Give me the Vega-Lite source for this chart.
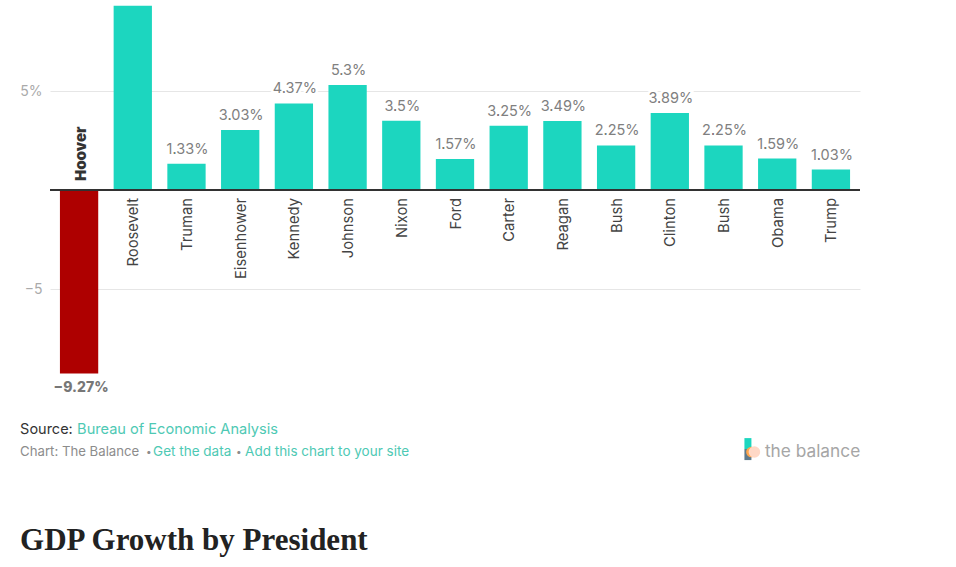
{
"$schema":"https://vega.github.io/schema/vega-lite/v6.json",
"width":810,"height":567,
"autosize":{"type":"none"},
"padding":{"left":50,"right":96,"top":0,"bottom":0},
"background":"white",
"config":{"view":{"stroke":null},"text":{"font":"Inter"}},
"data":{"values":[
{"term":"Hoover","president":"Hoover","growth":-9.27,"label":"−9.27%"},
{"term":"Roosevelt","president":"Roosevelt","growth":9.3,"label":""},
{"term":"Truman","president":"Truman","growth":1.33,"label":"1.33%"},
{"term":"Eisenhower","president":"Eisenhower","growth":3.03,"label":"3.03%"},
{"term":"Kennedy","president":"Kennedy","growth":4.37,"label":"4.37%"},
{"term":"Johnson","president":"Johnson","growth":5.3,"label":"5.3%"},
{"term":"Nixon","president":"Nixon","growth":3.5,"label":"3.5%"},
{"term":"Ford","president":"Ford","growth":1.57,"label":"1.57%"},
{"term":"Carter","president":"Carter","growth":3.25,"label":"3.25%"},
{"term":"Reagan","president":"Reagan","growth":3.49,"label":"3.49%"},
{"term":"Bush 41","president":"Bush","growth":2.25,"label":"2.25%"},
{"term":"Clinton","president":"Clinton","growth":3.89,"label":"3.89%"},
{"term":"Bush 43","president":"Bush","growth":2.25,"label":"2.25%"},
{"term":"Obama","president":"Obama","growth":1.59,"label":"1.59%"},
{"term":"Trump","president":"Trump","growth":1.03,"label":"1.03%"}
]},
"encoding":{
"x":{"field":"term","type":"nominal","scale":{"domain":["Hoover","Roosevelt","Truman","Eisenhower","Kennedy","Johnson","Nixon","Ford","Carter","Reagan","Bush 41","Clinton","Bush 43","Obama","Trump"],"paddingInner":0.287,"paddingOuter":0.185},"axis":null},
"y":{"field":"growth","type":"quantitative","scale":{"domain":[-19.04,9.596],"nice":false,"zero":false},
 "axis":{"values":[-5,5],"title":null,"domain":false,"ticks":false,"labelExpr":"datum.value>0?'5%':'−5'","labelColor":"#aaaaaa","labelFont":"Inter","labelFontSize":14,"labelPadding":8,"gridColor":"#e6e6e6","grid":true,"zindex":0}}
},
"layer":[
{"transform":[{"filter":"datum.growth>0"}],"mark":{"type":"text","baseline":"bottom","dy":-7,"dx":1,"stroke":"white","strokeWidth":5,"fontSize":14.5},"encoding":{"text":{"field":"label"}}},
{"mark":{"type":"bar"},"encoding":{"color":{"condition":{"test":"datum.growth<0","value":"#ae0000"},"value":"#1cd6bf"}}},
{"mark":{"type":"rule","color":"#333333","strokeWidth":1.2},"encoding":{"x":{"value":0},"x2":{"value":810},"y":{"datum":0}}},
{"transform":[{"filter":"datum.growth>0"}],"mark":{"type":"text","baseline":"bottom","dy":-7,"dx":1,"color":"#808080","fontSize":14.5},"encoding":{"text":{"field":"label"}}},
{"transform":[{"filter":"datum.growth<0"}],"mark":{"type":"text","baseline":"top","dy":7,"dx":2,"color":"#777777","fontSize":14,"fontWeight":800},"encoding":{"text":{"field":"label"}}},
{"transform":[{"filter":"datum.growth>0"}],"mark":{"type":"text","angle":270,"align":"right","baseline":"middle","dx":-8,"dy":1.5,"color":"#444444","fontSize":14.8},"encoding":{"text":{"field":"president"},"y":{"datum":0}}},
{"transform":[{"filter":"datum.growth<0"}],"mark":{"type":"text","angle":270,"align":"left","baseline":"middle","dx":9,"dy":2,"color":"#333333","fontSize":15,"fontWeight":900},"encoding":{"text":{"field":"president"},"y":{"datum":0}}},
{"transform":[{"filter":"datum.term=='Hoover'"}],"mark":{"type":"text","align":"left","baseline":"middle","dx":-59,"color":"#333333","fontSize":14.5},"encoding":{"text":{"value":"Source:"},"y":{"datum":-12.14}}},
{"transform":[{"filter":"datum.term=='Hoover'"}],"mark":{"type":"text","align":"left","baseline":"middle","dx":-2,"color":"#4ec9b4","fontSize":14.6},"encoding":{"text":{"value":"Bureau of Economic Analysis"},"y":{"datum":-12.14}}},
{"transform":[{"filter":"datum.term=='Hoover'"}],"mark":{"type":"text","align":"left","baseline":"middle","dx":-59,"color":"#8c8c8c","fontSize":13.2},"encoding":{"text":{"value":"Chart: The Balance"},"y":{"datum":-13.23}}},
{"transform":[{"filter":"datum.term=='Hoover'"}],"mark":{"type":"text","align":"left","baseline":"middle","dx":67,"color":"#8c8c8c","fontSize":10},"encoding":{"text":{"value":"•"},"y":{"datum":-13.23}}},
{"transform":[{"filter":"datum.term=='Hoover'"}],"mark":{"type":"text","align":"left","baseline":"middle","dx":74,"color":"#4ec9b4","fontSize":13.5},"encoding":{"text":{"value":"Get the data"},"y":{"datum":-13.23}}},
{"transform":[{"filter":"datum.term=='Hoover'"}],"mark":{"type":"text","align":"left","baseline":"middle","dx":157,"color":"#8c8c8c","fontSize":10},"encoding":{"text":{"value":"•"},"y":{"datum":-13.23}}},
{"transform":[{"filter":"datum.term=='Hoover'"}],"mark":{"type":"text","align":"left","baseline":"middle","dx":166,"color":"#4ec9b4","fontSize":13.5},"encoding":{"text":{"value":"Add this chart to your site"},"y":{"datum":-13.23}}},
{"transform":[{"filter":"datum.term=='Hoover'"}],"mark":{"type":"text","align":"left","baseline":"middle","dx":-59,"color":"#222222","font":"Liberation Serif","fontWeight":"bold","fontSize":31},"encoding":{"text":{"value":"GDP Growth by President"},"y":{"datum":-17.75}}},
{"transform":[{"filter":"datum.term=='Trump'"}],"mark":{"type":"text","align":"left","baseline":"middle","dx":-66,"color":"#a6a6a6","fontSize":17.3},"encoding":{"text":{"value":"the balance"},"y":{"datum":-13.23}}},
{"transform":[{"filter":"datum.term=='Trump'"}],"mark":{"type":"bar","width":7,"xOffset":-83,"color":"#1cd6bf"},"encoding":{"y":{"datum":-12.53},"y2":{"datum":-13.08}}},
{"transform":[{"filter":"datum.term=='Trump'"}],"mark":{"type":"bar","width":7,"xOffset":-83,"color":"#5f7a8c"},"encoding":{"y":{"datum":-13.08},"y2":{"datum":-13.64}}},
{"transform":[{"filter":"datum.term=='Trump'"}],"mark":{"type":"point","filled":true,"opacity":1,"size":113,"xOffset":-79.5,"color":"#ffa64d"},"encoding":{"y":{"datum":-13.23}}},
{"transform":[{"filter":"datum.term=='Trump'"}],"mark":{"type":"point","filled":true,"opacity":1,"size":133,"xOffset":-76.5,"color":"#ffd8c6"},"encoding":{"y":{"datum":-13.23}}}
]
}
